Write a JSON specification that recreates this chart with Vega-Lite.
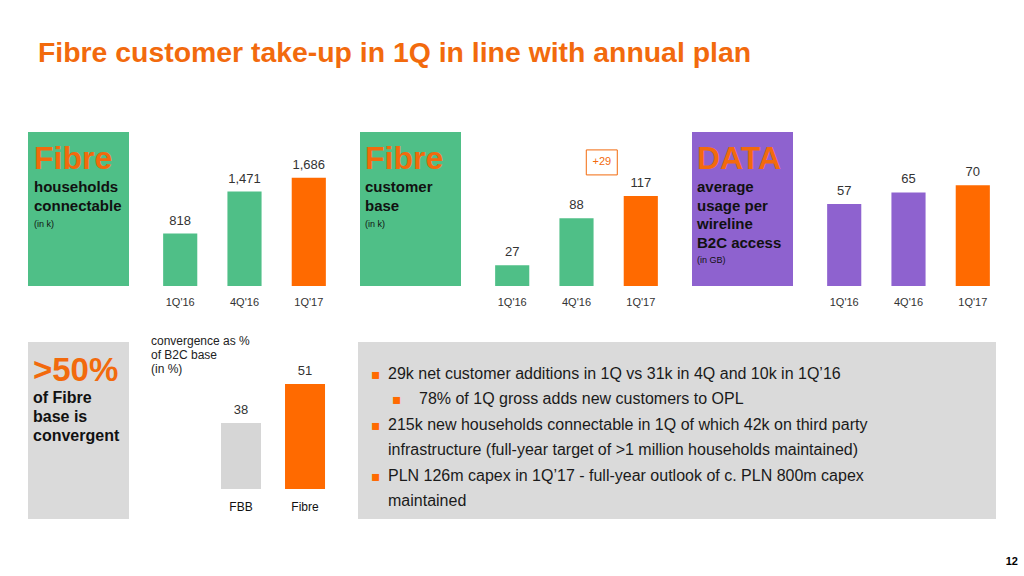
{
  "$schema": "https://vega.github.io/schema/vega-lite/v6.json",
  "background": "white",
  "padding": {"left": 28, "top": 38, "right": 0, "bottom": 0},
  "title": {"text": "Fibre customer take-up in 1Q in line with annual plan", "anchor": "start", "frame": "group", "fontSize": 28.4, "fontWeight": "bold", "color": "#F26A0D", "dx": 10, "offset": 64},
  "spacing": 28,
  "resolve": {"scale": {"color": "independent"}},
  "config": {
    "font": "Liberation Sans",
    "view": {"stroke": null},
    "title": {"font": "Liberation Sans", "subtitleFont": "Liberation Sans"},
    "axis": {"labelFont": "Liberation Sans"}
  },
  "datasets": {
    "households": [{"q": "1Q'16", "value": 818}, {"q": "4Q'16", "value": 1471}, {"q": "1Q'17", "value": 1686}],
    "customers": [{"q": "1Q'16", "value": 27}, {"q": "4Q'16", "value": 88}, {"q": "1Q'17", "value": 117}],
    "netadds": [{"q": "1Q'17", "value": 117, "delta": "+29"}],
    "usage": [{"q": "1Q'16", "value": 57}, {"q": "4Q'16", "value": 65}, {"q": "1Q'17", "value": 70}],
    "convergence": [{"segment": "FBB", "value": 38}, {"segment": "Fibre", "value": 51}],
    "bullets": [
      {"line": 1, "level": 1, "bullet": true, "text": "29k net customer additions in 1Q vs 31k in 4Q and 10k in 1Q’16"},
      {"line": 2, "level": 2, "bullet": true, "text": "78% of 1Q gross adds new customers to OPL"},
      {"line": 3, "level": 1, "bullet": true, "text": "215k new households connectable in 1Q of which 42k on third party"},
      {"line": 4, "level": 1, "bullet": false, "text": "infrastructure (full-year target of >1 million households maintained)"},
      {"line": 5, "level": 1, "bullet": true, "text": "PLN 126m capex in 1Q’17 - full-year outlook of c. PLN 800m capex"},
      {"line": 6, "level": 1, "bullet": false, "text": "maintained"}
    ]
  },
  "vconcat": [
    {
      "bounds": "flush",
      "spacing": 2,
      "resolve": {"scale": {"color": "independent"}},
      "hconcat": [
        {
          "width": 101, "height": 154,
          "view": {"fill": "#4FBF87", "stroke": null},
          "title": {"text": "Fibre", "subtitle": ["households", "connectable"], "anchor": "start", "frame": "group", "orient": "top", "offset": -83, "dx": 6, "fontSize": 32, "fontWeight": "bold", "color": "#F26A0D", "subtitleFontSize": 15, "subtitleFontWeight": "bold", "subtitleColor": "#111111", "subtitleLineHeight": 19, "subtitlePadding": 4},
          "data": {"values": [{"unit": "(in k)"}]},
          "mark": {"type": "text", "align": "left", "baseline": "alphabetic", "fontSize": 9, "color": "#111111", "dx": -44.5, "dy": 18},
          "encoding": {"text": {"field": "unit"}}
        },
        {
          "width": 227, "height": 154,
          "data": {"name": "households"},
          "encoding": {
            "x": {"field": "q", "type": "nominal", "sort": null, "scale": {"type": "band", "paddingInner": 0.469, "paddingOuter": 0.5}, "axis": {"title": null, "domain": false, "ticks": false, "labelAngle": 0, "labelFontSize": 11, "labelColor": "#333333", "labelPadding": 10}},
            "y": {"field": "value", "type": "quantitative", "scale": {"domain": [0, 2400], "nice": false}, "axis": null}
          },
          "layer": [
            {"mark": {"type": "bar"}, "encoding": {"color": {"field": "q", "type": "nominal", "scale": {"domain": ["1Q'16", "4Q'16", "1Q'17"], "range": ["#4FBF87", "#4FBF87", "#FF6A00"]}, "legend": null}}},
            {"mark": {"type": "text", "dy": -9, "baseline": "alphabetic", "fontSize": 13, "color": "#333333"}, "encoding": {"text": {"field": "value", "type": "quantitative", "format": ","}}}
          ]
        },
        {
          "width": 101, "height": 154,
          "view": {"fill": "#4FBF87", "stroke": null},
          "title": {"text": "Fibre", "subtitle": ["customer", "base"], "anchor": "start", "frame": "group", "orient": "top", "offset": -83, "dx": 5, "fontSize": 32, "fontWeight": "bold", "color": "#F26A0D", "subtitleFontSize": 15, "subtitleFontWeight": "bold", "subtitleColor": "#111111", "subtitleLineHeight": 19, "subtitlePadding": 4},
          "data": {"values": [{"unit": "(in k)"}]},
          "mark": {"type": "text", "align": "left", "baseline": "alphabetic", "fontSize": 9, "color": "#111111", "dx": -45.5, "dy": 18},
          "encoding": {"text": {"field": "unit"}}
        },
        {
          "width": 227, "height": 154,
          "encoding": {
            "x": {"field": "q", "type": "nominal", "sort": null, "scale": {"type": "band", "paddingInner": 0.469, "paddingOuter": 0.5}, "axis": {"title": null, "domain": false, "ticks": false, "labelAngle": 0, "labelFontSize": 11, "labelColor": "#333333", "labelPadding": 10}},
            "y": {"field": "value", "type": "quantitative", "scale": {"domain": [0, 200], "nice": false}, "axis": null}
          },
          "layer": [
            {"data": {"name": "customers"}, "mark": {"type": "bar"}, "encoding": {"color": {"field": "q", "type": "nominal", "scale": {"domain": ["1Q'16", "4Q'16", "1Q'17"], "range": ["#4FBF87", "#4FBF87", "#FF6A00"]}, "legend": null}}},
            {"data": {"name": "customers"}, "mark": {"type": "text", "dy": -9, "baseline": "alphabetic", "fontSize": 13, "color": "#333333"}, "encoding": {"text": {"field": "value", "type": "quantitative", "format": ","}}},
            {"data": {"name": "netadds"}, "mark": {"type": "point", "shape": "M-4.36,-3.68H-1.88V-1.68H-4.36Z", "size": 625, "filled": false, "color": "#F26A0D", "strokeWidth": 1, "opacity": 1}},
            {"data": {"name": "netadds"}, "mark": {"type": "text", "baseline": "middle", "fontSize": 11, "color": "#F26A0D", "dx": -39, "dy": -33.5}, "encoding": {"text": {"field": "delta"}}}
          ]
        },
        {
          "width": 101, "height": 154,
          "view": {"fill": "#8E62CF", "stroke": null},
          "title": {"text": "DATA", "subtitle": ["average", "usage per", "wireline", "B2C access"], "anchor": "start", "frame": "group", "orient": "top", "offset": -120, "dx": 5, "fontSize": 32, "fontWeight": "bold", "color": "#F26A0D", "subtitleFontSize": 15, "subtitleFontWeight": "bold", "subtitleColor": "#111111", "subtitleLineHeight": 18.7, "subtitlePadding": 4},
          "data": {"values": [{"unit": "(in GB)"}]},
          "mark": {"type": "text", "align": "left", "baseline": "alphabetic", "fontSize": 9, "color": "#111111", "dx": -45.5, "dy": 54},
          "encoding": {"text": {"field": "unit"}}
        },
        {
          "width": 227, "height": 154,
          "data": {"name": "usage"},
          "encoding": {
            "x": {"field": "q", "type": "nominal", "sort": null, "scale": {"type": "band", "paddingInner": 0.469, "paddingOuter": 0.5}, "axis": {"title": null, "domain": false, "ticks": false, "labelAngle": 0, "labelFontSize": 11, "labelColor": "#333333", "labelPadding": 10}},
            "y": {"field": "value", "type": "quantitative", "scale": {"domain": [0, 107], "nice": false}, "axis": null}
          },
          "layer": [
            {"mark": {"type": "bar"}, "encoding": {"color": {"field": "q", "type": "nominal", "scale": {"domain": ["1Q'16", "4Q'16", "1Q'17"], "range": ["#8E62CF", "#8E62CF", "#FF6A00"]}, "legend": null}}},
            {"mark": {"type": "text", "dy": -9, "baseline": "alphabetic", "fontSize": 13, "color": "#333333"}, "encoding": {"text": {"field": "value", "type": "quantitative", "format": ","}}}
          ]
        }
      ]
    },
    {
      "bounds": "flush",
      "spacing": 2,
      "resolve": {"scale": {"color": "independent"}},
      "hconcat": [
        {
          "width": 101, "height": 177,
          "view": {"fill": "#DADADA", "stroke": null},
          "title": {"text": ">50%", "subtitle": ["of Fibre", "base is", "convergent"], "anchor": "start", "frame": "group", "orient": "top", "offset": -102, "dx": 5, "fontSize": 33, "fontWeight": "bold", "color": "#F26A0D", "subtitleFontSize": 16, "subtitleFontWeight": "bold", "subtitleColor": "#111111", "subtitleLineHeight": 19, "subtitlePadding": 2},
          "data": {"values": []},
          "mark": {"type": "text"},
          "encoding": {}
        },
        {
          "width": 225, "height": 147,
          "title": {"text": ["convergence as %", "of B2C base", "(in %)"], "anchor": "start", "frame": "group", "orient": "top", "offset": -34, "dx": 20, "fontSize": 12, "fontWeight": "normal", "color": "#222222", "lineHeight": 14},
          "data": {"name": "convergence"},
          "encoding": {
            "x": {"field": "segment", "type": "nominal", "sort": null, "scale": {"type": "band", "paddingInner": 0.375, "paddingOuter": 0.945, "align": 0.744}, "axis": {"title": null, "domain": false, "ticks": false, "labelAngle": 0, "labelFontSize": 12, "labelColor": "#111111", "labelPadding": 12}},
            "y": {"field": "value", "type": "quantitative", "scale": {"domain": [16, 65], "zero": false, "nice": false}, "axis": null}
          },
          "layer": [
            {"mark": {"type": "bar", "clip": true}, "encoding": {"color": {"field": "segment", "type": "nominal", "scale": {"domain": ["FBB", "Fibre"], "range": ["#D6D6D6", "#FF6A00"]}, "legend": null}}},
            {"mark": {"type": "text", "dy": -9, "baseline": "alphabetic", "fontSize": 13, "color": "#333333"}, "encoding": {"text": {"field": "value", "type": "quantitative"}}}
          ]
        },
        {
          "width": 638, "height": 177,
          "view": {"fill": "#DADADA", "stroke": null},
          "title": {"text": "12", "orient": "bottom", "anchor": "end", "frame": "group", "dx": 22, "offset": 37, "fontSize": 11, "fontWeight": "bold", "color": "#000000"},
          "data": {"name": "bullets"},
          "encoding": {
            "y": {"field": "line", "type": "quantitative", "scale": {"domain": [-0.457, 6.512], "reverse": true, "zero": false, "nice": false}, "axis": null}
          },
          "layer": [
            {"mark": {"type": "text", "align": "left", "baseline": "alphabetic", "fontSize": 16, "color": "#1A1A1A"}, "encoding": {"x": {"field": "level", "type": "quantitative", "scale": {"domain": [1, 2], "range": [30, 61], "zero": false, "nice": false}, "axis": null}, "text": {"field": "text"}}},
            {"transform": [{"filter": "datum.bullet"}], "mark": {"type": "text", "text": "▪", "align": "left", "baseline": "alphabetic", "fontSize": 14, "color": "#FF6A00", "font": "DejaVu Sans"}, "encoding": {"x": {"field": "level", "type": "quantitative", "scale": {"domain": [1, 2], "range": [13, 34], "zero": false, "nice": false}, "axis": null}}}
          ],
          "resolve": {"scale": {"x": "independent"}}
        }
      ]
    }
  ]
}
